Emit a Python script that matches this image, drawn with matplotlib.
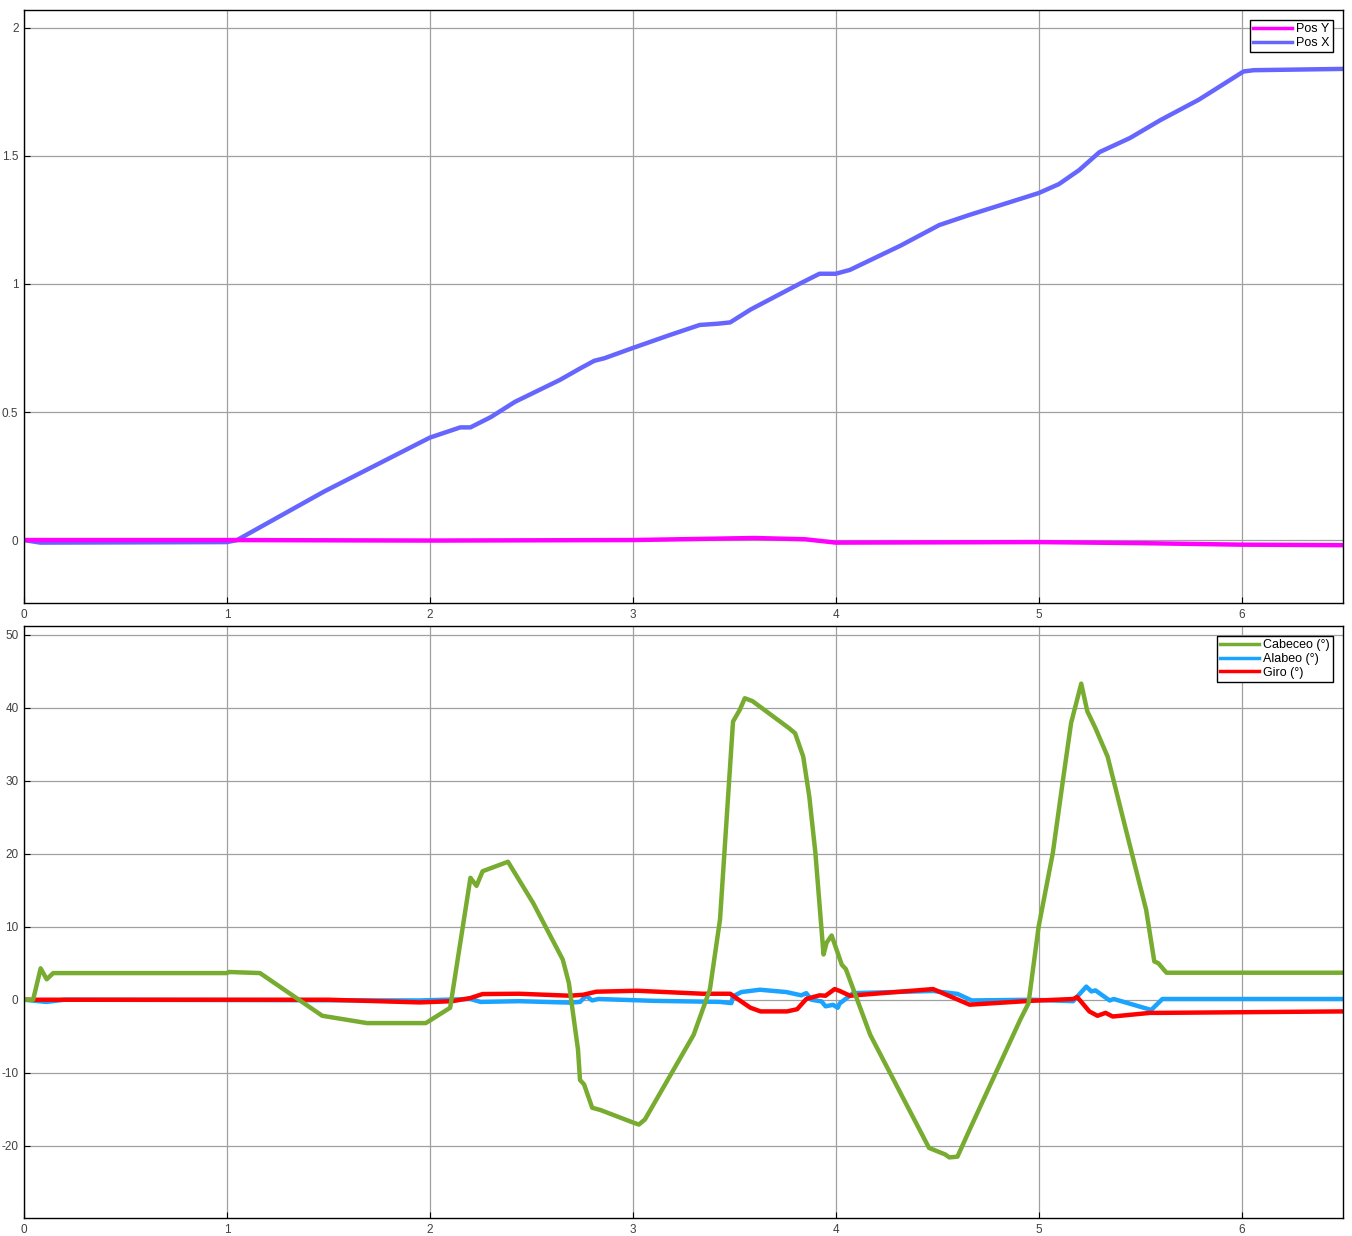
import numpy as np
import matplotlib
matplotlib.use('Agg')
import matplotlib.pyplot as plt

plt.rcParams['font.family'] = ['Liberation Sans', 'DejaVu Sans']
plt.rcParams['axes.unicode_minus'] = False

# ---- top panel: position ----
t_posx = [0, 0.08, 1.0, 1.05, 1.48, 2.0, 2.15, 2.2, 2.3, 2.42, 2.64, 2.74, 2.81, 2.86,
          3.0, 3.18, 3.33, 3.42, 3.48, 3.58, 3.82, 3.92, 4.0, 4.07, 4.32, 4.51, 4.66,
          5.0, 5.1, 5.2, 5.3, 5.45, 5.6, 5.79, 6.01, 6.06, 6.5]
pos_x = [0, -0.01, -0.008, 0, 0.19, 0.40, 0.44, 0.44, 0.48, 0.54, 0.625, 0.67, 0.70, 0.71,
         0.75, 0.80, 0.84, 0.845, 0.85, 0.90, 1.0, 1.04, 1.04, 1.055, 1.15, 1.23, 1.27,
         1.355, 1.39, 1.445, 1.515, 1.57, 1.64, 1.72, 1.83, 1.835, 1.84]

t_posy = [0, 1.0, 2.0, 3.0, 3.6, 3.85, 4.0, 5.0, 5.5, 6.0, 6.5]
pos_y = [0, 0, -0.002, 0.0, 0.008, 0.003, -0.01, -0.008, -0.012, -0.018, -0.02]

# ---- bottom panel: attitude (deg) ----
t_cab = [0, 0.045, 0.082, 0.112, 0.144, 1.0, 1.01, 1.163, 1.47, 1.69, 1.98, 2.1,
         2.2, 2.23, 2.26, 2.385, 2.51, 2.655, 2.685, 2.73, 2.74, 2.76, 2.8, 2.84,
         2.99, 3.03, 3.06, 3.3, 3.38, 3.43, 3.494, 3.527, 3.552, 3.59, 3.77, 3.8,
         3.84, 3.87, 3.9, 3.94, 3.955, 3.98, 4.03, 4.05, 4.17, 4.46, 4.54, 4.56,
         4.6, 4.66, 4.91, 4.95, 5.0, 5.07, 5.12, 5.16, 5.21, 5.24, 5.28, 5.34,
         5.43, 5.53, 5.57, 5.59, 5.63, 6.5]
cabeceo = [0, 0, 4.3, 2.8, 3.65, 3.65, 3.8, 3.65, -2.2, -3.2, -3.2, -1.1,
           16.7, 15.6, 17.6, 18.9, 13.2, 5.5, 2.3, -6.8, -11, -11.6, -14.8, -15.1,
           -16.7, -17.1, -16.4, -4.8, 1.4, 11, 38.1, 39.7, 41.3, 40.9, 37.2, 36.5,
           33.3, 27.8, 20.1, 6.2, 7.8, 8.8, 4.8, 4.2, -4.8, -20.3, -21.2, -21.6,
           -21.5, -17.8, -2.7, -0.5, 10, 20.1, 30.1, 37.9, 43.3, 39.5, 37.2, 33.3,
           23.3, 12.3, 5.25, 5.0, 3.7, 3.7]

t_ala = [0, 0.11, 0.2, 1.95, 2.2, 2.25, 2.44, 2.69, 2.74, 2.77, 2.8, 2.83, 3.1,
         3.43, 3.486, 3.494, 3.535, 3.626, 3.757, 3.83, 3.855, 3.88, 3.93, 3.95,
         3.987, 4.01, 4.02, 4.07, 4.085, 4.48, 4.6, 4.67, 4.97, 5.17, 5.235, 5.26,
         5.28, 5.35, 5.37, 5.555, 5.61, 6.5]
alabeo = [0, -0.3, 0, -0.1, 0.1, -0.3, -0.2, -0.4, -0.3, 0.55, -0.1, 0.1, -0.15,
          -0.3, -0.46, 0.46, 1.05, 1.37, 1.05, 0.6, 0.9, 0, -0.23, -0.9,
          -0.7, -1.1, -0.5, 0.55, 0.9, 1.2, 0.8, -0.1, 0, -0.2, 1.8, 1.14,
          1.28, -0.1, 0.1, -1.4, 0.1, 0.1]

t_giro = [0, 1.5, 1.95, 2.11, 2.2, 2.26, 2.44, 2.69, 2.755, 2.82, 3.02, 3.345,
          3.48, 3.51, 3.58, 3.63, 3.76, 3.81, 3.855, 3.92, 3.95, 3.995, 4.02,
          4.07, 4.48, 4.66, 4.97, 5.17, 5.19, 5.25, 5.29, 5.33, 5.365, 5.55, 5.6, 6.5]
giro = [0, 0, -0.37, -0.2, 0.23, 0.78, 0.82, 0.55, 0.68, 1.1, 1.23, 0.82,
        0.82, 0.23, -1.1, -1.6, -1.6, -1.3, 0.1, 0.6, 0.55, 1.46, 1.2,
        0.55, 1.46, -0.68, -0.14, 0.1, 0.37, -1.6, -2.2, -1.8, -2.3, -1.8, -1.8, -1.6]

fig = plt.figure(figsize=(13.52, 12.36), dpi=100)
ax1 = fig.add_axes([0.01775, 0.5121, 0.9756, 0.4798])
ax2 = fig.add_axes([0.01775, 0.01456, 0.9756, 0.4790])

leg_kw = dict(loc='upper right', fontsize=9, handlelength=3.1, fancybox=False,
              edgecolor='black', framealpha=1, borderpad=0.25, labelspacing=0.15,
              handletextpad=0.35, borderaxespad=0.8)

lx, = ax1.plot(t_posx, pos_x, color='#6666ff', linewidth=3.2, label='Pos X')
ly, = ax1.plot(t_posy, pos_y, color='#ff00ff', linewidth=3.2, label='Pos Y')
ax1.set_xlim(0, 6.5)
ax1.set_ylim(-0.246, 2.07)
ax1.set_yticks([0, 0.5, 1, 1.5, 2])
ax1.set_yticklabels(['0', '0.5', '1', '1.5', '2'])
leg1 = ax1.legend(handles=[ly, lx], **leg_kw)

la, = ax2.plot(t_ala, alabeo, color='#1aa3ff', linewidth=3.2, label='Alabeo (°)')
lg, = ax2.plot(t_giro, giro, color='#ff0000', linewidth=3.2, label='Giro (°)')
lc, = ax2.plot(t_cab, cabeceo, color='#77ac30', linewidth=3.2, label='Cabeceo (°)')
ax2.set_xlim(0, 6.5)
ax2.set_ylim(-29.9, 51.2)
ax2.set_yticks([-20, -10, 0, 10, 20, 30, 40, 50])
leg2 = ax2.legend(handles=[lc, la, lg], **leg_kw)

for leg in (leg1, leg2):
    for h in leg.get_lines():
        h.set_linewidth(2.5)

for ax in (ax1, ax2):
    ax.set_xticks([0, 1, 2, 3, 4, 5, 6])
    ax.grid(True, color='#a0a0a0', linewidth=0.9)
    ax.set_axisbelow(True)
    ax.tick_params(direction='in', labelsize=8.5, labelcolor='#404040',
                   length=4, pad=4)
    for s in ax.spines.values():
        s.set_color('black')
        s.set_linewidth(1.0)

fig.savefig('out.png', dpi=100)
